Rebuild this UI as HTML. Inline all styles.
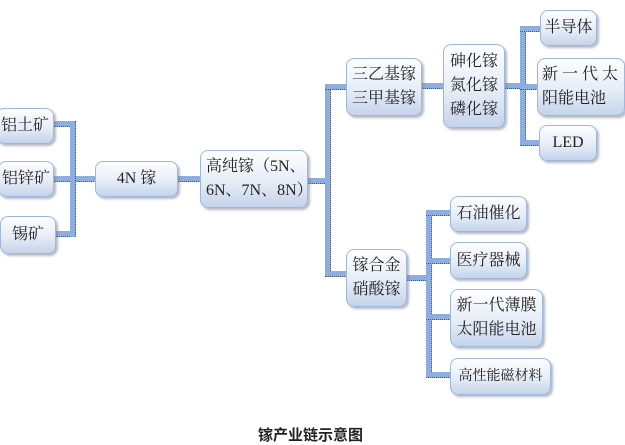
<!DOCTYPE html>
<html><head><meta charset="utf-8"><style>
html,body{margin:0;padding:0;background:#fff;}
body{width:625px;height:444px;position:relative;overflow:hidden;font-family:"Liberation Serif","Noto Serif CJK SC",serif;}
.b{position:absolute;box-sizing:border-box;border:1.5px solid #9db8db;border-radius:8px;background:linear-gradient(#fdfeff,#e6edf7 55%,#c5d4ea);box-shadow:2px 2px 2px rgba(120,130,150,.55);color:#222;font-size:16px;line-height:24px;display:flex;align-items:center;justify-content:center;text-align:center;white-space:nowrap;}
.l{position:absolute;background:#8eaedf;}
.h{height:6px;border-bottom:1px dotted #555;box-sizing:border-box;}
.v{width:6px;border-right:1px dotted #555;box-sizing:border-box;}
.cap{position:absolute;left:258px;top:424px;font-family:"Liberation Sans","Noto Sans CJK SC",sans-serif;font-weight:bold;font-size:15px;color:#222;}
</style></head><body>
<div class="l h" style="left:54px;top:121px;width:22px"></div>
<div class="l h" style="left:54px;top:176px;width:42px"></div>
<div class="l h" style="left:56px;top:231px;width:20px"></div>
<div class="l v" style="left:70px;top:121px;height:116px"></div>
<div class="l h" style="left:177px;top:176px;width:24px"></div>
<div class="l h" style="left:307px;top:178px;width:22px"></div>
<div class="l v" style="left:325px;top:84px;height:193px"></div>
<div class="l h" style="left:325px;top:84px;width:22px"></div>
<div class="l h" style="left:325px;top:271px;width:22px"></div>
<div class="l h" style="left:421px;top:83px;width:23px"></div>
<div class="l h" style="left:504px;top:83px;width:20px"></div>
<div class="l v" style="left:520px;top:26px;height:120px"></div>
<div class="l h" style="left:520px;top:26px;width:21px"></div>
<div class="l h" style="left:520px;top:84px;width:18px"></div>
<div class="l h" style="left:520px;top:140px;width:20px"></div>
<div class="l h" style="left:406px;top:275px;width:24px"></div>
<div class="l v" style="left:426px;top:210px;height:168px"></div>
<div class="l h" style="left:426px;top:210px;width:25px"></div>
<div class="l h" style="left:426px;top:258px;width:25px"></div>
<div class="l h" style="left:426px;top:314px;width:25px"></div>
<div class="l h" style="left:426px;top:372px;width:25px"></div>
<div class="b" style="left:-4px;top:108px;width:58px;height:36px">铝土矿</div>
<div class="b" style="left:-2px;top:161px;width:56px;height:36px">铝锌矿</div>
<div class="b" style="left:0px;top:216px;width:56px;height:38px">锡矿</div>
<div class="b" style="left:95px;top:161px;width:83px;height:36px">4N 镓</div>
<div class="b" style="left:200px;top:150px;width:108px;height:58px;justify-content:flex-start;text-align:left;padding-left:5px">高纯镓（5N、<br>6N、7N、8N）</div>
<div class="b" style="left:346px;top:58px;width:76px;height:58px">三乙基镓<br>三甲基镓</div>
<div class="b" style="left:443px;top:44px;width:62px;height:84px">砷化镓<br>氮化镓<br>磷化镓</div>
<div class="b" style="left:540px;top:10px;width:57px;height:36px">半导体</div>
<div class="b" style="left:537px;top:58px;width:88px;height:58px;justify-content:flex-start;text-align:left;padding-left:4px">新 一 代 太<br>阳能电池</div>
<div class="b" style="left:539px;top:125px;width:58px;height:36px">LED</div>
<div class="b" style="left:346px;top:249px;width:61px;height:58px">镓合金<br>硝酸镓</div>
<div class="b" style="left:450px;top:196px;width:77px;height:36px">石油催化</div>
<div class="b" style="left:450px;top:242px;width:77px;height:37px">医疗器械</div>
<div class="b" style="left:450px;top:289px;width:93px;height:58px">新一代薄膜<br>太阳能电池</div>
<div class="b" style="left:450px;top:358px;width:101px;height:37px;font-size:14px">高性能磁材料</div>
<div class="cap">镓产业链示意图</div>
</body></html>
